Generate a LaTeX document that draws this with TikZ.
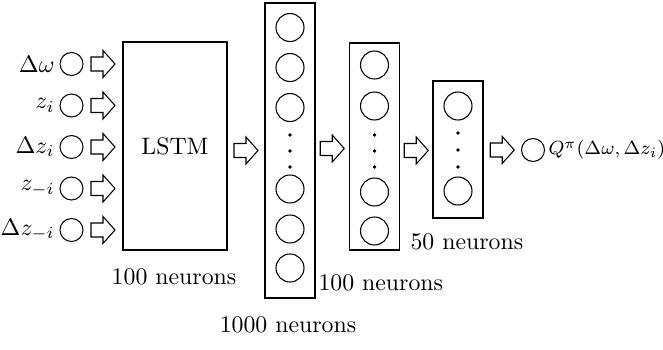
\documentclass[tikz,border=0pt]{standalone}
\usetikzlibrary{calc}
\begin{document}
\begin{tikzpicture}[x=0.42pt, y=-0.42pt, line width=0.45pt,
  inunit/.style={circle, draw, inner sep=0pt, minimum size=9.66pt},
  unit/.style={circle, draw, inner sep=0pt, minimum size=11.76pt},
  layer/.style={draw, rectangle, inner sep=0pt, minimum width=21pt},
  lbl/.style={inner sep=0pt},
  dotmark/.style={fill=black},
  blockarrow/.style={draw, line join=miter, to path={
    ($(\tikztostart)!0.5!(\tikztotarget)+(-12,-7)$) -- ++(12,0) -- ++(0,-6.5)
    -- ++(12,13.5) -- ++(-12,13.5) -- ++(0,-6.5) -- ++(-12,0) -- cycle}}
]
\useasboundingbox (0,0) rectangle (663,350);

% input units and their labels
\foreach \i/\yy/\txt in {1/64/{$\Delta\omega$}, 2/105.5/{$z_i$}, 3/147/{$\Delta z_i$},
                          4/188.5/{$z_{-i}$}, 5/230/{$\Delta z_{-i}$}} {
  \node[inunit] (in\i) at (71.5,\yy) {};
  \node[lbl, anchor=east] (inl\i) at (55,\yy) {\txt};
}

% LSTM block
\node[layer, minimum width=43.68pt, minimum height=87.36pt] (lstm) at (175,146) {LSTM};
\node[lbl] (lstmlbl) at (174,277) {100 neurons};

% dense layer with 1000 units
\node[layer, minimum height=123.9pt] (l1) at (290,150.5) {};
\foreach \i/\yy in {1/27.5, 2/67.5, 3/107.5, 4/189, 5/229, 6/268}
  \node[unit] (l1u\i) at (290,\yy) {};
\foreach \yy in {135,151,167} \fill[dotmark] (290,\yy) circle[radius=0.8pt];
\node[lbl] (l1lbl) at (288,325) {1000 neurons};

% dense layer with 100 units
\node[layer, minimum height=86.94pt] (l2) at (374.5,146.5) {};
\foreach \i/\yy in {1/65, 2/106, 3/192, 4/231}
  \node[unit] (l2u\i) at (374.5,\yy) {};
\foreach \yy in {135,151,167} \fill[dotmark] (374.5,\yy) circle[radius=0.8pt];
\node[lbl, anchor=west] (l2lbl) at (318,283) {100 neurons};

% dense layer with 50 units
\node[layer, minimum height=57.54pt] (l3) at (458,149.5) {};
\foreach \i/\yy in {1/106, 2/191}
  \node[unit] (l3u\i) at (458,\yy) {};
\foreach \yy in {133,150,167} \fill[dotmark] (458,\yy) circle[radius=0.8pt];
\node[lbl, anchor=west] (l3lbl) at (410,242) {50 neurons};

% output unit
\node[inunit] (out) at (533,150) {};
\node[lbl, anchor=west] (outlbl) at (548,150) {\footnotesize $Q^{\pi}(\Delta\omega,\Delta z_i)$};

% block arrows
\foreach \i in {1,...,5}
  \draw[blockarrow] (in\i.east) to (lstm.west |- in\i);
\draw[blockarrow] (lstm.east |- l1) to (l1.west);
\draw[blockarrow] (l1.east |- l2) to (l2.west |- l1);
\draw[blockarrow] (l2.east |- l1) to (l3.west |- l1);
\draw[blockarrow] (l3.east |- out) to (out.west);
\end{tikzpicture}
\end{document}
